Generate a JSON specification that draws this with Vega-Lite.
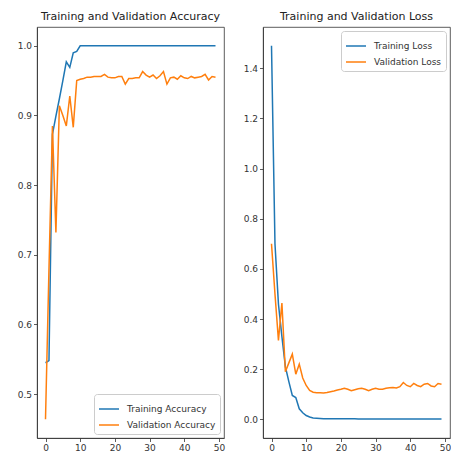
{
"$schema": "https://vega.github.io/schema/vega-lite/v6.json",
"padding": {"left": 16, "top": 10, "right": 0, "bottom": 0},
"spacing": 16,
"config": {
  "font": "DejaVu Sans",
  "view": {"stroke": "#333", "strokeWidth": 0.8},
  "axis": {"grid": false, "domainColor": "#333", "domainWidth": 0.8, "tickColor": "#333", "tickWidth": 0.8, "labelColor": "#333", "labelFontSize": 9, "tickSize": 3.5, "labelPadding": 2},
  "title": {"fontSize": 11, "fontWeight": "normal", "color": "#222", "offset": 5},
  "legend": {"title": null, "labelFontSize": 9, "labelColor": "#333", "symbolType": "stroke", "symbolSize": 400, "symbolStrokeWidth": 1.5, "strokeColor": "#ccc", "fillColor": "white", "padding": 4, "cornerRadius": 3, "offset": 4, "labelOffset": 7, "rowPadding": -3}
},
"datasets": {
"acc": [
{"epoch":0,"series":"Training Accuracy","value":0.545},{"epoch":1,"series":"Training Accuracy","value":0.548},{"epoch":2,"series":"Training Accuracy","value":0.873},{"epoch":3,"series":"Training Accuracy","value":0.899},{"epoch":4,"series":"Training Accuracy","value":0.924},{"epoch":5,"series":"Training Accuracy","value":0.95},{"epoch":6,"series":"Training Accuracy","value":0.977},{"epoch":7,"series":"Training Accuracy","value":0.969},{"epoch":8,"series":"Training Accuracy","value":0.99},{"epoch":9,"series":"Training Accuracy","value":0.992},
{"epoch":10,"series":"Training Accuracy","value":1.0},{"epoch":11,"series":"Training Accuracy","value":1.0},{"epoch":12,"series":"Training Accuracy","value":1.0},{"epoch":13,"series":"Training Accuracy","value":1.0},{"epoch":14,"series":"Training Accuracy","value":1.0},{"epoch":15,"series":"Training Accuracy","value":1.0},{"epoch":16,"series":"Training Accuracy","value":1.0},{"epoch":17,"series":"Training Accuracy","value":1.0},{"epoch":18,"series":"Training Accuracy","value":1.0},{"epoch":19,"series":"Training Accuracy","value":1.0},
{"epoch":20,"series":"Training Accuracy","value":1.0},{"epoch":21,"series":"Training Accuracy","value":1.0},{"epoch":22,"series":"Training Accuracy","value":1.0},{"epoch":23,"series":"Training Accuracy","value":1.0},{"epoch":24,"series":"Training Accuracy","value":1.0},{"epoch":25,"series":"Training Accuracy","value":1.0},{"epoch":26,"series":"Training Accuracy","value":1.0},{"epoch":27,"series":"Training Accuracy","value":1.0},{"epoch":28,"series":"Training Accuracy","value":1.0},{"epoch":29,"series":"Training Accuracy","value":1.0},
{"epoch":30,"series":"Training Accuracy","value":1.0},{"epoch":31,"series":"Training Accuracy","value":1.0},{"epoch":32,"series":"Training Accuracy","value":1.0},{"epoch":33,"series":"Training Accuracy","value":1.0},{"epoch":34,"series":"Training Accuracy","value":1.0},{"epoch":35,"series":"Training Accuracy","value":1.0},{"epoch":36,"series":"Training Accuracy","value":1.0},{"epoch":37,"series":"Training Accuracy","value":1.0},{"epoch":38,"series":"Training Accuracy","value":1.0},{"epoch":39,"series":"Training Accuracy","value":1.0},
{"epoch":40,"series":"Training Accuracy","value":1.0},{"epoch":41,"series":"Training Accuracy","value":1.0},{"epoch":42,"series":"Training Accuracy","value":1.0},{"epoch":43,"series":"Training Accuracy","value":1.0},{"epoch":44,"series":"Training Accuracy","value":1.0},{"epoch":45,"series":"Training Accuracy","value":1.0},{"epoch":46,"series":"Training Accuracy","value":1.0},{"epoch":47,"series":"Training Accuracy","value":1.0},{"epoch":48,"series":"Training Accuracy","value":1.0},{"epoch":49,"series":"Training Accuracy","value":1.0},
{"epoch":0,"series":"Validation Accuracy","value":0.464},{"epoch":1,"series":"Validation Accuracy","value":0.68},{"epoch":2,"series":"Validation Accuracy","value":0.885},{"epoch":3,"series":"Validation Accuracy","value":0.732},{"epoch":4,"series":"Validation Accuracy","value":0.914},{"epoch":5,"series":"Validation Accuracy","value":0.9},{"epoch":6,"series":"Validation Accuracy","value":0.885},{"epoch":7,"series":"Validation Accuracy","value":0.928},{"epoch":8,"series":"Validation Accuracy","value":0.883},{"epoch":9,"series":"Validation Accuracy","value":0.95},
{"epoch":10,"series":"Validation Accuracy","value":0.952},{"epoch":11,"series":"Validation Accuracy","value":0.953},{"epoch":12,"series":"Validation Accuracy","value":0.955},{"epoch":13,"series":"Validation Accuracy","value":0.955},{"epoch":14,"series":"Validation Accuracy","value":0.956},{"epoch":15,"series":"Validation Accuracy","value":0.956},{"epoch":16,"series":"Validation Accuracy","value":0.956},{"epoch":17,"series":"Validation Accuracy","value":0.959},{"epoch":18,"series":"Validation Accuracy","value":0.955},{"epoch":19,"series":"Validation Accuracy","value":0.954},
{"epoch":20,"series":"Validation Accuracy","value":0.954},{"epoch":21,"series":"Validation Accuracy","value":0.956},{"epoch":22,"series":"Validation Accuracy","value":0.956},{"epoch":23,"series":"Validation Accuracy","value":0.945},{"epoch":24,"series":"Validation Accuracy","value":0.953},{"epoch":25,"series":"Validation Accuracy","value":0.953},{"epoch":26,"series":"Validation Accuracy","value":0.954},{"epoch":27,"series":"Validation Accuracy","value":0.954},{"epoch":28,"series":"Validation Accuracy","value":0.963},{"epoch":29,"series":"Validation Accuracy","value":0.958},
{"epoch":30,"series":"Validation Accuracy","value":0.955},{"epoch":31,"series":"Validation Accuracy","value":0.958},{"epoch":32,"series":"Validation Accuracy","value":0.953},{"epoch":33,"series":"Validation Accuracy","value":0.957},{"epoch":34,"series":"Validation Accuracy","value":0.963},{"epoch":35,"series":"Validation Accuracy","value":0.945},{"epoch":36,"series":"Validation Accuracy","value":0.954},{"epoch":37,"series":"Validation Accuracy","value":0.955},{"epoch":38,"series":"Validation Accuracy","value":0.952},{"epoch":39,"series":"Validation Accuracy","value":0.957},
{"epoch":40,"series":"Validation Accuracy","value":0.954},{"epoch":41,"series":"Validation Accuracy","value":0.953},{"epoch":42,"series":"Validation Accuracy","value":0.956},{"epoch":43,"series":"Validation Accuracy","value":0.954},{"epoch":44,"series":"Validation Accuracy","value":0.955},{"epoch":45,"series":"Validation Accuracy","value":0.956},{"epoch":46,"series":"Validation Accuracy","value":0.959},{"epoch":47,"series":"Validation Accuracy","value":0.951},{"epoch":48,"series":"Validation Accuracy","value":0.956},{"epoch":49,"series":"Validation Accuracy","value":0.955}
],
"loss": [
{"epoch":0,"series":"Training Loss","value":1.49},{"epoch":1,"series":"Training Loss","value":0.7},{"epoch":2,"series":"Training Loss","value":0.46},{"epoch":3,"series":"Training Loss","value":0.33},{"epoch":4,"series":"Training Loss","value":0.21},{"epoch":5,"series":"Training Loss","value":0.15},{"epoch":6,"series":"Training Loss","value":0.095},{"epoch":7,"series":"Training Loss","value":0.087},{"epoch":8,"series":"Training Loss","value":0.042},{"epoch":9,"series":"Training Loss","value":0.026},
{"epoch":10,"series":"Training Loss","value":0.015},{"epoch":11,"series":"Training Loss","value":0.009},{"epoch":12,"series":"Training Loss","value":0.005},{"epoch":13,"series":"Training Loss","value":0.004},{"epoch":14,"series":"Training Loss","value":0.003},{"epoch":15,"series":"Training Loss","value":0.002},{"epoch":16,"series":"Training Loss","value":0.002},{"epoch":17,"series":"Training Loss","value":0.002},{"epoch":18,"series":"Training Loss","value":0.002},{"epoch":19,"series":"Training Loss","value":0.002},
{"epoch":20,"series":"Training Loss","value":0.002},{"epoch":21,"series":"Training Loss","value":0.002},{"epoch":22,"series":"Training Loss","value":0.002},{"epoch":23,"series":"Training Loss","value":0.002},{"epoch":24,"series":"Training Loss","value":0.002},{"epoch":25,"series":"Training Loss","value":0.001},{"epoch":26,"series":"Training Loss","value":0.001},{"epoch":27,"series":"Training Loss","value":0.001},{"epoch":28,"series":"Training Loss","value":0.001},{"epoch":29,"series":"Training Loss","value":0.001},
{"epoch":30,"series":"Training Loss","value":0.001},{"epoch":31,"series":"Training Loss","value":0.001},{"epoch":32,"series":"Training Loss","value":0.001},{"epoch":33,"series":"Training Loss","value":0.001},{"epoch":34,"series":"Training Loss","value":0.001},{"epoch":35,"series":"Training Loss","value":0.001},{"epoch":36,"series":"Training Loss","value":0.001},{"epoch":37,"series":"Training Loss","value":0.001},{"epoch":38,"series":"Training Loss","value":0.001},{"epoch":39,"series":"Training Loss","value":0.001},
{"epoch":40,"series":"Training Loss","value":0.001},{"epoch":41,"series":"Training Loss","value":0.001},{"epoch":42,"series":"Training Loss","value":0.001},{"epoch":43,"series":"Training Loss","value":0.001},{"epoch":44,"series":"Training Loss","value":0.001},{"epoch":45,"series":"Training Loss","value":0.001},{"epoch":46,"series":"Training Loss","value":0.001},{"epoch":47,"series":"Training Loss","value":0.001},{"epoch":48,"series":"Training Loss","value":0.001},{"epoch":49,"series":"Training Loss","value":0.001},
{"epoch":0,"series":"Validation Loss","value":0.7},{"epoch":1,"series":"Validation Loss","value":0.5},{"epoch":2,"series":"Validation Loss","value":0.315},{"epoch":3,"series":"Validation Loss","value":0.464},{"epoch":4,"series":"Validation Loss","value":0.19},{"epoch":5,"series":"Validation Loss","value":0.225},{"epoch":6,"series":"Validation Loss","value":0.26},{"epoch":7,"series":"Validation Loss","value":0.18},{"epoch":8,"series":"Validation Loss","value":0.22},{"epoch":9,"series":"Validation Loss","value":0.165},
{"epoch":10,"series":"Validation Loss","value":0.135},{"epoch":11,"series":"Validation Loss","value":0.115},{"epoch":12,"series":"Validation Loss","value":0.108},{"epoch":13,"series":"Validation Loss","value":0.106},{"epoch":14,"series":"Validation Loss","value":0.106},{"epoch":15,"series":"Validation Loss","value":0.105},{"epoch":16,"series":"Validation Loss","value":0.107},{"epoch":17,"series":"Validation Loss","value":0.11},{"epoch":18,"series":"Validation Loss","value":0.113},{"epoch":19,"series":"Validation Loss","value":0.117},
{"epoch":20,"series":"Validation Loss","value":0.12},{"epoch":21,"series":"Validation Loss","value":0.124},{"epoch":22,"series":"Validation Loss","value":0.12},{"epoch":23,"series":"Validation Loss","value":0.114},{"epoch":24,"series":"Validation Loss","value":0.118},{"epoch":25,"series":"Validation Loss","value":0.122},{"epoch":26,"series":"Validation Loss","value":0.124},{"epoch":27,"series":"Validation Loss","value":0.12},{"epoch":28,"series":"Validation Loss","value":0.114},{"epoch":29,"series":"Validation Loss","value":0.12},
{"epoch":30,"series":"Validation Loss","value":0.124},{"epoch":31,"series":"Validation Loss","value":0.12},{"epoch":32,"series":"Validation Loss","value":0.12},{"epoch":33,"series":"Validation Loss","value":0.124},{"epoch":34,"series":"Validation Loss","value":0.126},{"epoch":35,"series":"Validation Loss","value":0.127},{"epoch":36,"series":"Validation Loss","value":0.125},{"epoch":37,"series":"Validation Loss","value":0.13},{"epoch":38,"series":"Validation Loss","value":0.147},{"epoch":39,"series":"Validation Loss","value":0.135},
{"epoch":40,"series":"Validation Loss","value":0.13},{"epoch":41,"series":"Validation Loss","value":0.143},{"epoch":42,"series":"Validation Loss","value":0.135},{"epoch":43,"series":"Validation Loss","value":0.13},{"epoch":44,"series":"Validation Loss","value":0.14},{"epoch":45,"series":"Validation Loss","value":0.143},{"epoch":46,"series":"Validation Loss","value":0.133},{"epoch":47,"series":"Validation Loss","value":0.13},{"epoch":48,"series":"Validation Loss","value":0.143},{"epoch":49,"series":"Validation Loss","value":0.14}
]
},
"resolve": {"scale": {"color": "independent", "x": "independent", "y": "independent"}, "legend": {"color": "independent"}},
"hconcat": [
  {
    "title": "Training and Validation Accuracy",
    "width": 187, "height": 411,
    "data": {"name": "acc"},
    "mark": {"type": "line", "strokeWidth": 1.5},
    "encoding": {
      "x": {"field": "epoch", "type": "quantitative", "title": null, "scale": {"domain": [-2.45, 51.45], "nice": false, "zero": false}, "axis": {"values": [0, 10, 20, 30, 40, 50]}},
      "y": {"field": "value", "type": "quantitative", "title": null, "scale": {"domain": [0.437, 1.027], "nice": false, "zero": false}, "axis": {"values": [0.5, 0.6, 0.7, 0.8, 0.9, 1.0], "format": ".1f"}},
      "color": {"field": "series", "type": "nominal", "scale": {"domain": ["Training Accuracy", "Validation Accuracy"], "range": ["#1f77b4", "#ff7f0e"]}, "legend": {"orient": "bottom-right"}}
    }
  },
  {
    "title": "Training and Validation Loss",
    "width": 187, "height": 411,
    "data": {"name": "loss"},
    "mark": {"type": "line", "strokeWidth": 1.5},
    "encoding": {
      "x": {"field": "epoch", "type": "quantitative", "title": null, "scale": {"domain": [-2.45, 51.45], "nice": false, "zero": false}, "axis": {"values": [0, 10, 20, 30, 40, 50]}},
      "y": {"field": "value", "type": "quantitative", "title": null, "scale": {"domain": [-0.0745, 1.5645], "nice": false, "zero": false}, "axis": {"values": [0, 0.2, 0.4, 0.6, 0.8, 1.0, 1.2, 1.4], "format": ".1f"}},
      "color": {"field": "series", "type": "nominal", "scale": {"domain": ["Training Loss", "Validation Loss"], "range": ["#1f77b4", "#ff7f0e"]}, "legend": {"orient": "top-right"}}
    }
  }
]
}
